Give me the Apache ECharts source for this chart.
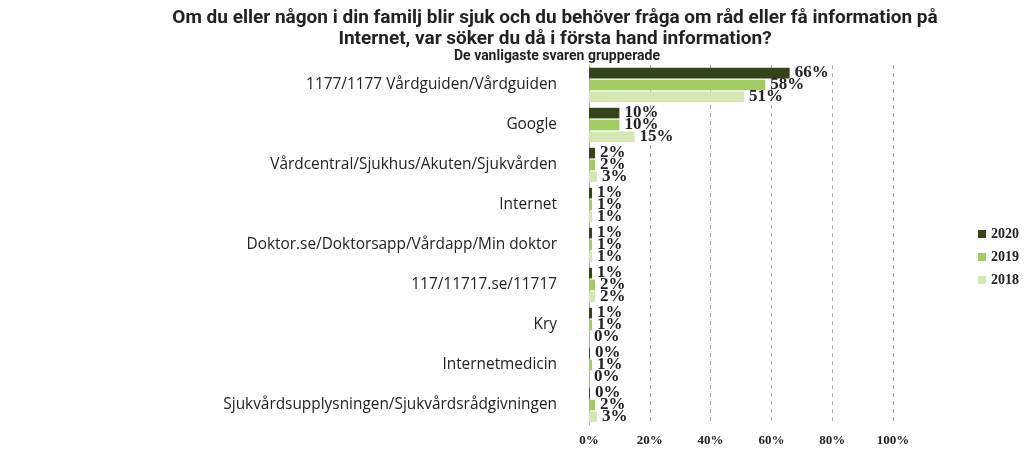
<!DOCTYPE html>
<html>
<head>
    <meta charset="UTF-8">
    <script src="https://cdn.jsdelivr.net/npm/echarts@6/dist/echarts.min.js"></script>
    <style type="text/css">
        html, body { margin: 0; padding: 0; background: #fff; }
        #chart { width: 1031px; height: 468px; }
    </style>
</head>
<body>
    <div id="chart"></div>
    <script type="text/javascript">
        'use strict';
        var categories = [
            '1177/1177 Vårdguiden/Vårdguiden',
            'Google',
            'Vårdcentral/Sjukhus/Akuten/Sjukvården',
            'Internet',
            'Doktor.se/Doktorsapp/Vårdapp/Min doktor',
            '117/11717.se/11717',
            'Kry',
            'Internetmedicin',
            'Sjukvårdsupplysningen/Sjukvårdsrådgivningen'
        ];
        var years = ['2020', '2019', '2018'];
        var values2020 = [66, 10, 2, 1, 1, 1, 1, 0.3, 0.3];
        var values2019 = [58, 10, 2, 1, 1, 2, 1, 1, 2];
        var values2018 = [51, 15, 2.6, 1, 1, 2, 0, 0, 2.6];
        var colors = ['#334419', '#a0cc60', '#d4e7b2'];
        var axisTicks = [0, 20, 40, 60, 80, 100];

        var serif = "'Liberation Serif', 'DejaVu Serif', serif";
        var sans = "Roboto, sans-serif";

        function makeSeries(name, data, color) {
            return {
                name: name,
                type: 'bar',
                data: data,
                barGap: '12%',
                barCategoryGap: '14%',
                itemStyle: { color: color },
                label: {
                    show: true,
                    position: 'right',
                    distance: 5,
                    padding: [3, 0, 0, 0],
                    fontFamily: serif,
                    fontWeight: 'bold',
                    fontSize: 17,
                    color: '#222',
                    formatter: function (p) { return Math.round(p.value) + '%'; }
                }
            };
        }

        var chart = echarts.init(document.getElementById('chart'));
        chart.setOption({
            animation: false,
            color: colors,
            title: [{
                text: 'Om du eller någon i din familj blir sjuk och du behöver fråga om råd eller få information på\nInternet, var söker du då i första hand information?',
                left: 550,
                textAlign: 'center',
                top: 3,
                textStyle: {
                    fontFamily: sans,
                    fontWeight: 'bold',
                    fontSize: 19,
                    lineHeight: 21,
                    color: '#222'
                }
            }, {
                text: 'De vanligaste svaren grupperade',
                left: 552,
                textAlign: 'center',
                top: 44,
                textStyle: {
                    fontFamily: sans,
                    fontWeight: 'bold',
                    fontSize: 14,
                    color: '#222'
                }
            }],
            legend: {
                orient: 'vertical',
                left: 973,
                top: 222,
                itemWidth: 8,
                itemHeight: 8,
                itemGap: 9,
                icon: 'rect',
                data: years,
                textStyle: {
                    fontFamily: serif,
                    fontWeight: 'bold',
                    fontSize: 14,
                    color: '#222'
                }
            },
            grid: {
                left: 589,
                right: 138,
                top: 65,
                bottom: 43,
                containLabel: false
            },
            xAxis: {
                type: 'value',
                min: axisTicks[0],
                max: axisTicks[axisTicks.length - 1],
                interval: 20,
                axisLine: { show: false },
                axisTick: { show: false },
                splitLine: { show: true, lineStyle: { color: '#aaa', type: [4, 4], width: 1 } },
                axisLabel: {
                    fontFamily: serif,
                    fontWeight: 'bold',
                    fontSize: 13,
                    color: '#222',
                    margin: 9,
                    formatter: '{value}%'
                }
            },
            yAxis: {
                type: 'category',
                inverse: true,
                data: categories,
                axisLine: { show: true, lineStyle: { color: '#aaa' } },
                axisTick: { show: false },
                axisLabel: {
                    fontFamily: "'Open Sans', sans-serif",
                    fontSize: 15.4,
                    color: '#222',
                    margin: 32,
                    padding: [4, 0, 0, 0]
                }
            },
            series: [
                makeSeries(years[0], values2020, colors[0]),
                makeSeries(years[1], values2019, colors[1]),
                makeSeries(years[2], values2018, colors[2])
            ]
        });
    </script>
</body>
</html>
